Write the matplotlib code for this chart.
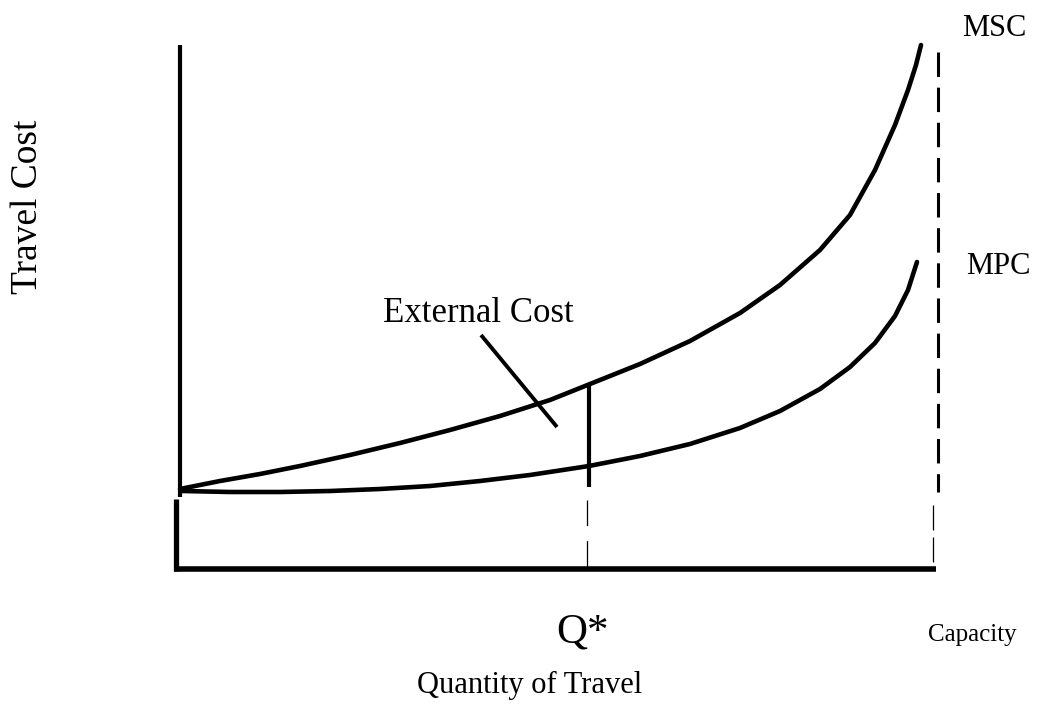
import matplotlib
matplotlib.use("Agg")
import matplotlib.pyplot as plt

# ---- data (diagram coordinates: x to the right, y downward, in picture units) ----
msc_x = [180, 220, 260, 300, 350, 400, 450, 500, 550, 590, 640, 690, 740, 780, 820, 850, 875, 895, 908, 916, 921]
msc_y = [489, 481, 474, 466, 455, 443, 430, 416, 400, 384, 364, 341, 313, 285, 250, 215, 170, 125, 90, 65, 45]

mpc_x = [182, 230, 280, 330, 380, 430, 480, 530, 589, 640, 690, 740, 780, 820, 850, 875, 895, 908, 917]
mpc_y = [491, 492, 492, 491, 489, 486, 481, 475, 466, 456, 444, 428, 411, 389, 367, 343, 316, 290, 262]

q_star = 589
capacity = 938
origin_x = 180
top_y = 45
curve_base_y = 490
axis_y = 569

labels = {
    "msc": "MSC",
    "mpc": "MPC",
    "ylabel": "Travel Cost",
    "xlabel": "Quantity of Travel",
    "ext": "External Cost",
    "q": "Q*",
    "cap": "Capacity",
}

plt.rcParams['font.family'] = ['Liberation Serif', 'DejaVu Serif']

fig = plt.figure(figsize=(10.46, 7.12), dpi=100)
ax = fig.add_axes([0, 0, 1, 1])
ax.set_xlim(0, 1046)
ax.set_ylim(712, 0)
ax.axis('off')

k = 'black'
# vertical axis (upper part) and lower part
ax.plot([origin_x, origin_x], [top_y, curve_base_y + 7], color=k, lw=3.0, solid_capstyle='butt')
ax.plot([origin_x - 4, origin_x - 4], [curve_base_y + 9, axis_y + 2], color=k, lw=3.8, solid_capstyle='butt')
# horizontal axis
ax.plot([origin_x - 6, capacity - 2], [axis_y, axis_y], color=k, lw=4.0, solid_capstyle='butt')

# curves
ax.plot(msc_x, msc_y, color=k, lw=3.3, solid_capstyle='round', solid_joinstyle='round')
ax.plot(mpc_x, mpc_y, color=k, lw=3.3, solid_capstyle='round', solid_joinstyle='round')

# capacity line
ax.plot([capacity, capacity], [52, 492], color=k, lw=2.2, dashes=(8, 3.5), solid_capstyle='butt')
ax.plot([capacity - 5, capacity - 5], [505, axis_y - 2], color=k, lw=0.9, dashes=(20, 5.6))

# Q* line
ax.plot([q_star, q_star], [384, 487], color=k, lw=3.0, solid_capstyle='butt')
ax.plot([q_star - 2, q_star - 2], [500, axis_y - 2], color=k, lw=0.9, dashes=(20.5, 12))

# external cost pointer
ax.plot([481, 557], [335, 427], color=k, lw=2.8, solid_capstyle='butt')

# text
ax.text(962, 28, labels["msc"], fontsize=22, ha='left', va='center')
ax.text(966, 266, labels["mpc"], fontsize=22, ha='left', va='center')
ax.text(28, 207, labels["ylabel"], fontsize=27, rotation=90, ha='center', va='center')
ax.text(478, 313, labels["ext"], fontsize=25, ha='center', va='center')
ax.text(583, 632, labels["q"], fontsize=31, ha='center', va='center')
ax.text(972, 635, labels["cap"], fontsize=18, ha='center', va='center')
ax.text(530, 685, labels["xlabel"], fontsize=22, ha='center', va='center')

fig.savefig("out.png", dpi=100)
